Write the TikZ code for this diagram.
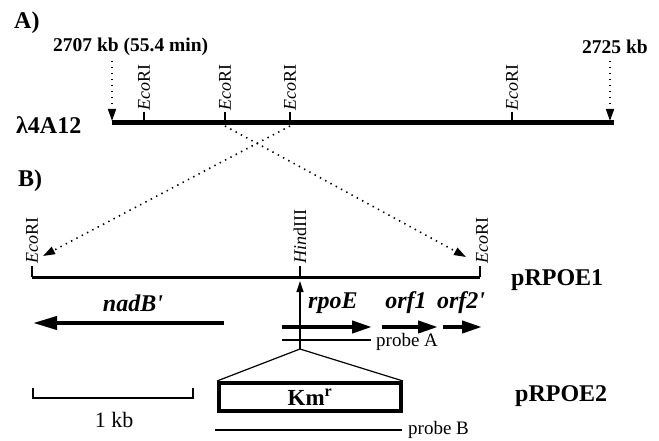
\documentclass[tikz,border=0pt]{standalone}
\usepackage{fontspec}
\setmainfont{Liberation Serif}
\usetikzlibrary{arrows.meta}
\tikzset{
  lbl/.style={inner sep=0pt, font=\bfseries\fontsize{24}{24}\selectfont},
  kblbl/.style={inner sep=0pt, anchor=west, font=\bfseries\fontsize{19.5}{19.5}\selectfont},
  gene/.style={inner sep=0pt, font=\bfseries\itshape\fontsize{24}{24}\selectfont},
  site/.style={inner sep=0pt, rotate=90, anchor=west, font=\fontsize{18}{18}\selectfont},
  probe/.style={inner sep=0pt, anchor=west, font=\fontsize{19}{19}\selectfont},
  tick/.style={line width=1.2pt},
  dots/.style={line width=1.6pt, dash pattern=on 1.4pt off 4.6pt,
    -{Triangle[length=12pt,width=8pt]}},
  orf/.style={line width=4pt, -{Triangle[length=20pt,width=12pt]}},
}
\begin{document}
\begin{tikzpicture}[x=1pt,y=-1pt]
\useasboundingbox (0,0) rectangle (659,441);

% ---------- A) lambda clone ----------
\node[lbl, anchor=west] (labA) at (14,23) {A)};
\node[lbl, anchor=west] (lam) at (16,125) {λ4A12};
\coordinate (lamL) at (112,123);
\coordinate (lamR) at (614,123);
\draw[line width=5pt] (lamL) -- (lamR);
\foreach \x/\n in {144/e1,225/e2,290/e3,512/e4}{
  \coordinate (\n b) at (\x,123);
  \coordinate (\n t) at (\x,112);
  \draw[tick] (\n b) -- (\n t);
  \node[site] (\n lab) at (\x,111) {\textit{Eco}RI};
}
\node[kblbl] (kb1) at (53,47) {2707 kb (55.4 min)};
\node[kblbl] (kb2) at (582,47) {2725 kb};
\coordinate (p1t) at (112,61);
\coordinate (p1b) at (112,121);
\coordinate (p2t) at (610,61);
\coordinate (p2b) at (610,121);
\draw[dots] (p1t) -- (p1b);
\draw[dots] (p2t) -- (p2b);

% ---------- B) plasmid pRPOE1 ----------
\node[lbl, anchor=west] (labB) at (18,181) {B)};
\coordinate (pL) at (32,277);
\coordinate (pR) at (480,277);
\coordinate (pH) at (300,277);
\draw[line width=3pt] (pL) -- (pR);
\draw[tick] (pL) -- ++(0,-11);
\draw[tick] (pR) -- ++(0,-11);
\draw[tick] (pH) -- ++(0,-11);
\node[site] (sL) at (32,264) {\textit{Eco}RI};
\node[site] (sH) at (300,264) {\textit{Hin}dIII};
\node[site] (sR) at (482,264) {\textit{Eco}RI};
\node[lbl, anchor=west] (pr1) at (511,280) {pRPOE1};

% subcloned fragment mapped onto the plasmid
\coordinate (aL) at (43,256);
\coordinate (aR) at (466,257);
\draw[dots] (e3b) ++(0,3) -- (aL);
\draw[dots] (e2b) ++(0,3) -- (aR);

% insertion point of the cassette
\coordinate (ins) at (300,349);
\coordinate (insT) at (300,281);
\draw[line width=1.2pt, -{Triangle[length=11pt,width=7pt]}] (ins) -- (insT);

% genes
\coordinate (nS) at (224,323);
\coordinate (nE) at (33,323);
\draw[orf, -{Triangle[length=24pt,width=13pt]}] (nS) -- (nE);
\node[gene] (nadB) at (133,303) {nadB\textquotesingle};

\coordinate (rS) at (282,327);
\coordinate (rE) at (372,327);
\draw[orf] (rS) -- (rE);
\node[gene, anchor=west] (rpoE) at (308,303) {rpoE};

\coordinate (o1S) at (382,327);
\coordinate (o1E) at (438,327);
\draw[orf] (o1S) -- (o1E);
\node[gene] (orf1) at (406,303) {orf1};

\coordinate (o2S) at (443,327);
\coordinate (o2E) at (482,327);
\draw[orf] (o2S) -- (o2E);
\node[gene] (orf2) at (461,303) {orf2\textquotesingle};

% probe A
\coordinate (paS) at (282,340);
\coordinate (paE) at (371,340);
\draw[tick] (paS) -- (paE);
\node[probe] (pA) at (376,342) {probe A};

% ---------- pRPOE2: Km cassette ----------
\coordinate (kL) at (217,381);
\coordinate (kR) at (403,381);
\draw[line width=1.2pt] (kL) -- (ins) -- (kR);
\node[draw, line width=4pt, minimum width=182pt, minimum height=28pt,
      inner sep=0pt, font=\bfseries\fontsize{23}{23}\selectfont] (km) at (310,397)
      {Km\textsuperscript{r}};
\node[lbl, anchor=west] (pr2) at (515,396) {pRPOE2};

% probe B
\coordinate (pbS) at (215,430);
\coordinate (pbE) at (402,430);
\draw[tick] (pbS) -- (pbE);
\node[probe] (pB) at (408,430) {probe B};

% scale bar
\coordinate (sb1) at (33,398);
\coordinate (sb2) at (193,398);
\draw[tick] (sb1) ++(0,-10) -- (sb1) -- (sb2) -- ++(0,-10);
\node[inner sep=0pt, font=\fontsize{22}{22}\selectfont] (onekb) at (114,420) {1 kb};
\end{tikzpicture}
\end{document}
